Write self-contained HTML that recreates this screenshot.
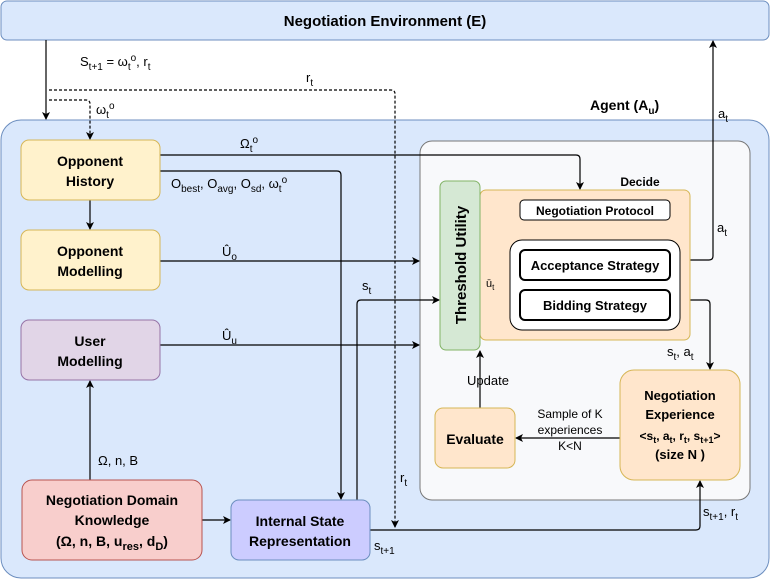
<!DOCTYPE html>
<html><head><meta charset="utf-8"><style>body{margin:0;background:#fff}svg{display:block;font-family:"Liberation Sans",sans-serif}</style></head><body>
<svg width="771" height="581" viewBox="0 0 771 581" xmlns="http://www.w3.org/2000/svg">
<defs><marker id="a" markerWidth="8" markerHeight="8" refX="7" refY="4" orient="auto" markerUnits="userSpaceOnUse"><path d="M0,0L8,4L0,8L2,4z" fill="#000"/></marker></defs>
<rect x="1" y="1" width="768" height="39" rx="6" fill="#dae8fc" stroke="#6c8ebf"/>
<text x="385" y="26" font-size="15" font-weight="bold" text-anchor="middle">Negotiation Environment (E)</text>
<rect x="1" y="120" width="768" height="458" rx="20" fill="#dae8fc" stroke="#6c8ebf"/>
<text x="590" y="110" font-size="14" font-weight="bold">Agent (A<tspan font-size="10" dy="4">u</tspan><tspan dy="-4">)</tspan></text>
<rect x="420" y="141" width="330" height="359" rx="12" fill="#f8f9fb" stroke="#777"/>
<g font-size="13" fill="#000">
<!-- lines -->
<g stroke="#000" fill="none" stroke-width="1.2">
<path d="M46,40V119" marker-end="url(#a)"/>
<path d="M49,90H391Q395,90 395,94V527" stroke-dasharray="3,2" marker-end="url(#a)"/>
<path d="M49,100H86Q90,100 90,104V139" stroke-dasharray="3,2" marker-end="url(#a)"/>
<path d="M160,155H576Q580,155 580,159V189" marker-end="url(#a)"/>
<path d="M160,171H337Q341,171 341,175V499" marker-end="url(#a)"/>
<path d="M160,261H419" marker-end="url(#a)"/>
<path d="M160,345H419" marker-end="url(#a)"/>
<path d="M357,500V304Q357,300 361,300H439" marker-end="url(#a)"/>
<path d="M480,296H509" marker-end="url(#a)"/>
<path d="M690,260H709Q713,260 713,256V41" marker-end="url(#a)"/>
<path d="M690,300H706Q710,300 710,304V369" marker-end="url(#a)"/>
<path d="M480,408V351" marker-end="url(#a)"/>
<path d="M620,438H516" marker-end="url(#a)"/>
<path d="M202,520H230" marker-end="url(#a)"/>
<path d="M90,480V381" marker-end="url(#a)"/>
<path d="M90,200V229" marker-end="url(#a)"/>
<path d="M370,530H696Q700,530 700,526V481" marker-end="url(#a)"/>
</g>
<!-- boxes -->
<rect x="21" y="140" width="139" height="60" rx="8" fill="#fff2cc" stroke="#d6b656"/>
<text x="90" y="166" font-size="14" font-weight="bold" text-anchor="middle">Opponent</text>
<text x="90" y="186" font-size="14" font-weight="bold" text-anchor="middle">History</text>
<rect x="21" y="230" width="139" height="60" rx="8" fill="#fff2cc" stroke="#d6b656"/>
<text x="90" y="256" font-size="14" font-weight="bold" text-anchor="middle">Opponent</text>
<text x="90" y="276" font-size="14" font-weight="bold" text-anchor="middle">Modelling</text>
<rect x="21" y="320" width="139" height="60" rx="8" fill="#e1d5e7" stroke="#9673a6"/>
<text x="90" y="346" font-size="14" font-weight="bold" text-anchor="middle">User</text>
<text x="90" y="366" font-size="14" font-weight="bold" text-anchor="middle">Modelling</text>
<rect x="22" y="480" width="180" height="80" rx="10" fill="#f8cecc" stroke="#b85450"/>
<text x="112" y="505" font-size="14" font-weight="bold" text-anchor="middle">Negotiation Domain</text>
<text x="112" y="525" font-size="14" font-weight="bold" text-anchor="middle">Knowledge</text>
<text x="112" y="546" font-size="14" font-weight="bold" text-anchor="middle">(Ω, n, B, u<tspan font-size="11" dy="4">res</tspan><tspan dy="-4">, d</tspan><tspan font-size="11" dy="4">D</tspan><tspan dy="-4">)</tspan></text>
<rect x="231" y="500" width="139" height="60" rx="8" fill="#ccccff" stroke="#6c8ebf"/>
<text x="300" y="526" font-size="14" font-weight="bold" text-anchor="middle">Internal State</text>
<text x="300" y="546" font-size="14" font-weight="bold" text-anchor="middle">Representation</text>
<rect x="480" y="190" width="210" height="150" rx="6" fill="#ffe6cc" stroke="#d6b656"/>
<text x="640" y="186" font-size="12" font-weight="bold" text-anchor="middle">Decide</text>
<rect x="440" y="181" width="40" height="169" rx="6" fill="#d5e8d4" stroke="#82b366"/>
<text transform="translate(466,265) rotate(-90)" font-size="15" font-weight="bold" text-anchor="middle">Threshold Utility</text>
<rect x="520" y="200" width="150" height="20" rx="4" fill="#fff" stroke="#000"/>
<text x="595" y="215" font-size="12" font-weight="bold" text-anchor="middle">Negotiation Protocol</text>
<rect x="510" y="240" width="170" height="90" rx="12" fill="#fff" stroke="#000"/>
<rect x="520" y="250" width="150" height="30" rx="5" fill="#fff" stroke="#000" stroke-width="2"/>
<text x="595" y="270" font-size="13" font-weight="bold" text-anchor="middle">Acceptance Strategy</text>
<rect x="520" y="290" width="150" height="30" rx="5" fill="#fff" stroke="#000" stroke-width="2"/>
<text x="595" y="310" font-size="13" font-weight="bold" text-anchor="middle">Bidding Strategy</text>
<rect x="435" y="408" width="80" height="60" rx="8" fill="#ffe6cc" stroke="#d6b656"/>
<text x="475" y="444" font-size="14" font-weight="bold" text-anchor="middle">Evaluate</text>
<rect x="620" y="370" width="120" height="110" rx="14" fill="#ffe6cc" stroke="#d6b656"/>
<text x="680" y="400" font-size="13" font-weight="bold" text-anchor="middle">Negotiation</text>
<text x="680" y="419" font-size="13" font-weight="bold" text-anchor="middle">Experience</text>
<text x="680" y="440" font-size="12" font-weight="bold" text-anchor="middle">&lt;s<tspan font-size="9" dy="3">t</tspan><tspan dy="-3">, a</tspan><tspan font-size="9" dy="3">t</tspan><tspan dy="-3">, r</tspan><tspan font-size="9" dy="3">t</tspan><tspan dy="-3">, s</tspan><tspan font-size="9" dy="3">t+1</tspan><tspan dy="-3">&gt;</tspan></text>
<text x="680" y="459" font-size="13" font-weight="bold" text-anchor="middle">(size N )</text>
<!-- labels -->
<text x="80" y="66">S<tspan font-size="10" dy="4">t+1</tspan><tspan dy="-4"> = ω</tspan><tspan font-size="10" dy="4">t</tspan><tspan font-size="10" dy="-9">o</tspan><tspan dy="5">, r</tspan><tspan font-size="10" dy="4">t</tspan></text>
<text x="306" y="82">r<tspan font-size="10" dy="4">t</tspan></text>
<text x="96" y="114">ω<tspan font-size="10" dy="4">t</tspan><tspan font-size="10" dy="-9">o</tspan></text>
<text x="240" y="148">Ω<tspan font-size="10" dy="4">t</tspan><tspan font-size="10" dy="-9">o</tspan></text>
<text x="171" y="188">O<tspan font-size="10" dy="4">best</tspan><tspan dy="-4">, O</tspan><tspan font-size="10" dy="4">avg</tspan><tspan dy="-4">, O</tspan><tspan font-size="10" dy="4">sd</tspan><tspan dy="-4">, ω</tspan><tspan font-size="10" dy="4">t</tspan><tspan font-size="10" dy="-9">o</tspan></text>
<text x="222" y="256">Û<tspan font-size="10" dy="4">o</tspan></text>
<text x="222" y="340">Û<tspan font-size="10" dy="4">u</tspan></text>
<text x="362" y="290">s<tspan font-size="10" dy="4">t</tspan></text>
<text x="486" y="287" font-size="11">ū<tspan font-size="8" dy="3">t</tspan></text>
<text x="718" y="118">a<tspan font-size="10" dy="4">t</tspan></text>
<text x="717" y="232">a<tspan font-size="10" dy="4">t</tspan></text>
<text x="667" y="356">s<tspan font-size="10" dy="4">t</tspan><tspan dy="-4">, a</tspan><tspan font-size="10" dy="4">t</tspan></text>
<text x="467" y="385">Update</text>
<text x="570" y="418" font-size="12" text-anchor="middle">Sample of K</text>
<text x="570" y="434" font-size="12" text-anchor="middle">experiences</text>
<text x="570" y="450" font-size="12" text-anchor="middle">K&lt;N</text>
<text x="98" y="465">Ω, n, B</text>
<text x="400" y="482">r<tspan font-size="10" dy="4">t</tspan></text>
<text x="374" y="550">s<tspan font-size="10" dy="4">t+1</tspan></text>
<text x="703" y="516">s<tspan font-size="10" dy="4">t+1</tspan><tspan dy="-4">, r</tspan><tspan font-size="10" dy="4">t</tspan></text>
</g>
</svg>
</body></html>
